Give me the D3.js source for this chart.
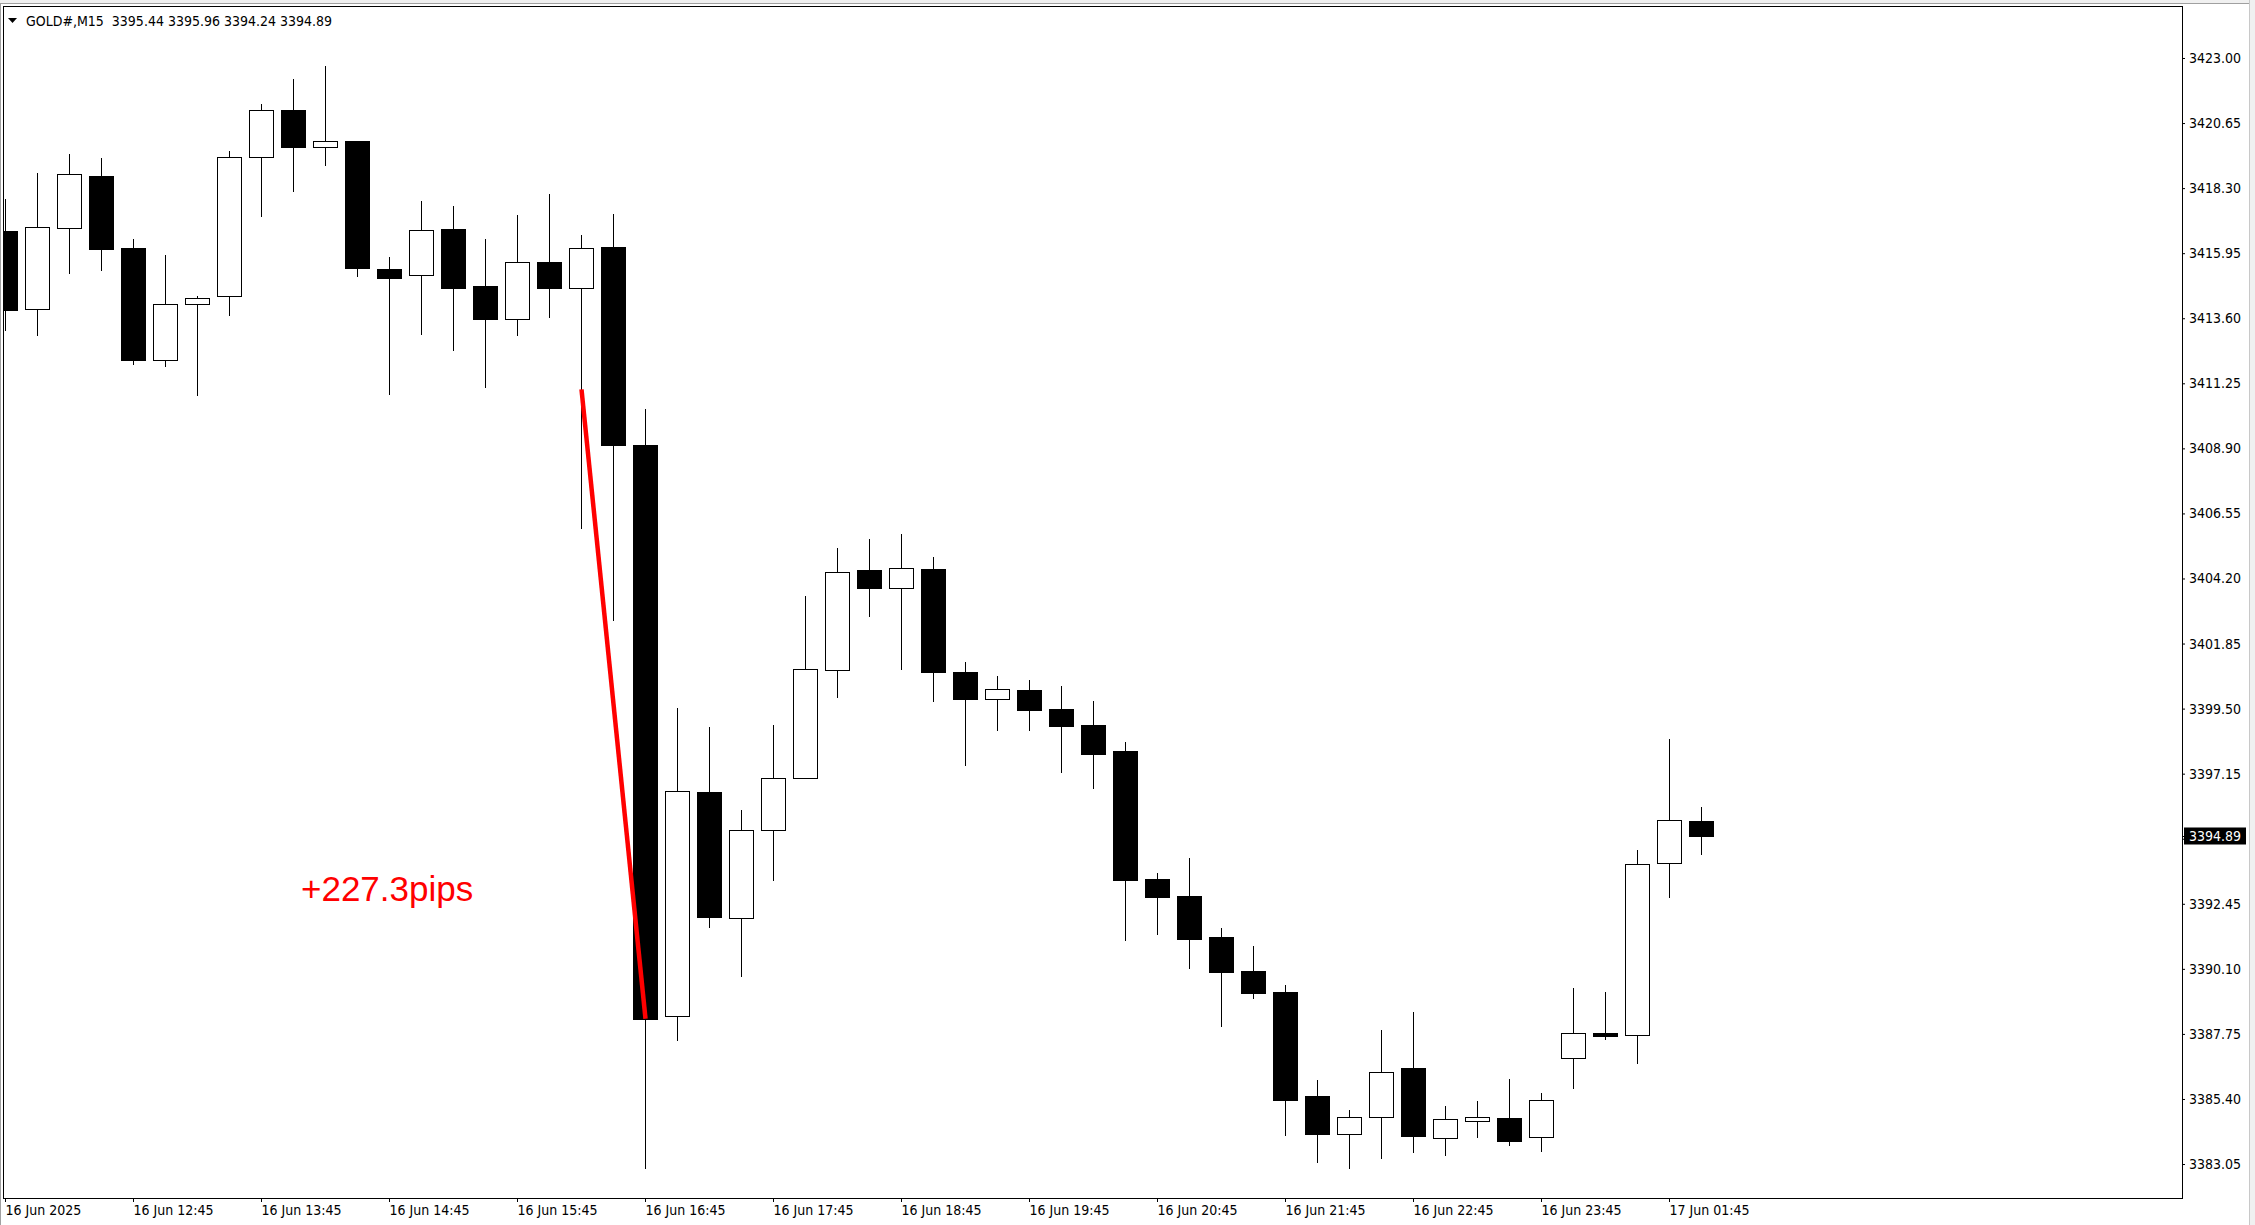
<!DOCTYPE html>
<html><head><meta charset="utf-8">
<script src="https://cdn.jsdelivr.net/npm/d3@7"></script>
<style>html,body{margin:0;padding:0;background:#fff;overflow:hidden}</style>
</head><body><svg id="c" width="2255" height="1225" xmlns="http://www.w3.org/2000/svg"></svg>
<script>
const symbol = "GOLD#,M15";
const opens  = [3416.76,3413.93,3416.85,3418.74,3416.14,3412.09,3414.11,3414.40,3419.42,3421.13,
                3419.78,3420.00,3415.39,3415.16,3416.83,3414.77,3413.57,3415.64,3414.69,3416.18,
                3409.02,3388.41,3396.49,3391.94,3395.11,3397.00,3400.89,3404.49,3403.86,3404.55,
                3400.84,3399.84,3400.18,3399.47,3398.89,3397.96,3393.33,3392.72,3391.24,3390.01,
                3389.25,3385.50,3384.15,3384.76,3386.51,3384.00,3384.62,3384.73,3384.04,3386.89,
                3387.79,3387.72,3393.93,3395.44];
const highs  = [3417.90,3418.85,3419.54,3419.39,3416.47,3415.89,3414.41,3419.65,3421.34,3422.25,
                3422.71,3420.00,3415.82,3417.84,3417.66,3416.47,3417.34,3418.09,3416.62,3417.38,
                3410.33,3399.53,3398.82,3395.85,3398.89,3403.58,3405.31,3405.61,3405.79,3404.98,
                3401.20,3400.68,3400.52,3400.33,3399.76,3398.31,3393.57,3394.12,3391.56,3390.91,
                3389.50,3386.07,3384.99,3387.88,3388.53,3385.13,3385.31,3386.11,3385.60,3389.40,
                3389.25,3394.41,3398.41,3395.96];
const lows   = [3413.18,3412.98,3415.22,3415.36,3411.93,3411.86,3410.81,3413.70,3417.28,3418.18,
                3419.12,3415.11,3410.86,3413.02,3412.47,3411.10,3412.98,3413.64,3406.03,3402.71,
                3382.91,3387.54,3391.61,3389.84,3393.32,3397.00,3399.93,3402.85,3400.92,3399.79,
                3397.46,3398.71,3398.71,3397.20,3396.62,3391.14,3391.37,3390.13,3388.03,3389.05,
                3384.10,3383.12,3382.91,3383.27,3383.49,3383.38,3384.03,3383.74,3383.52,3385.80,
                3387.57,3386.70,3392.69,3394.24];
const closes = [3413.88,3416.89,3418.80,3416.11,3412.08,3414.11,3414.33,3419.42,3421.11,3419.77,
                3419.99,3415.40,3415.04,3416.78,3414.71,3413.56,3415.63,3414.68,3416.14,3409.02,
                3388.30,3396.54,3391.98,3395.11,3397.00,3400.94,3404.44,3403.86,3404.58,3400.81,
                3399.84,3400.21,3399.44,3398.88,3397.86,3393.32,3392.69,3391.17,3389.98,3389.22,
                3385.37,3384.14,3384.76,3386.39,3384.06,3384.69,3384.76,3383.88,3385.38,3387.79,
                3387.67,3393.90,3395.48,3394.89];
const timeLabels = ["16 Jun 2025","16 Jun 12:45","16 Jun 13:45","16 Jun 14:45","16 Jun 15:45",
                    "16 Jun 16:45","16 Jun 17:45","16 Jun 18:45","16 Jun 19:45","16 Jun 20:45",
                    "16 Jun 21:45","16 Jun 22:45","16 Jun 23:45","17 Jun 01:45"];
const timeLabelIndex = [0,4,8,12,16,20,24,28,32,36,40,44,48,52];
const yTicks = [3423.00,3420.65,3418.30,3415.95,3413.60,3411.25,3408.90,3406.55,3404.20,
                3401.85,3399.50,3397.15,3394.80,3392.45,3390.10,3387.75,3385.40,3383.05];
const lastPrice = 3394.89;
const moveIndex = [18, 20];
const movePrice = [3411.03, 3388.30];
const moveLabel = "+227.3pips";
const moveLabelIndex = [9.25];
const moveLabelPrice = [3392.56];

const W = 2255, H = 1225;
const L = 4, R = 2182, T = 7, B = 1198;
const FONT = "Tahoma, 'DejaVu Sans Condensed', 'DejaVu Sans', sans-serif";
const n = opens.length;

const svg = d3.select("#c");
const x = d3.scaleLinear().domain([0, n - 1]).range([5, 5 + 32 * (n - 1)]);
const y = d3.scaleLinear().domain([3381.823, 3424.842]).range([B, T]);

// window chrome
svg.append("rect").attr("x",0).attr("y",0).attr("width",W).attr("height",H).attr("fill","#fff");
svg.append("rect").attr("x",0).attr("y",0).attr("width",W).attr("height",3).attr("fill","#f0f0f0");
svg.append("line").attr("x1",0).attr("x2",W).attr("y1",3.5).attr("y2",3.5).attr("stroke","#a0a0a0");
svg.append("rect").attr("x",2250).attr("y",0).attr("width",5).attr("height",H).attr("fill","#f0f0f0");
svg.append("line").attr("x1",2249.5).attr("x2",2249.5).attr("y1",0).attr("y2",H).attr("stroke","#c8c8c8");
svg.append("line").attr("x1",0.5).attr("x2",0.5).attr("y1",3).attr("y2",H).attr("stroke","#a0a0a0");

svg.append("defs").append("clipPath").attr("id","plot")
  .append("rect").attr("x",L).attr("y",T).attr("width",R-L).attr("height",B-T);

const g = svg.append("g").attr("clip-path","url(#plot)").attr("shape-rendering","crispEdges");
const idx = d3.range(n);

g.selectAll("line.wick").data(idx).join("line").attr("class","wick")
  .attr("x1", i => x(i) + 0.5).attr("x2", i => x(i) + 0.5)
  .attr("y1", i => Math.round(y(highs[i]))).attr("y2", i => Math.round(y(lows[i])) + 1)
  .attr("stroke","#000").attr("stroke-width",1);

g.selectAll("rect.body").data(idx).join("rect").attr("class","body")
  .each(function(i){
    const up = closes[i] >= opens[i];
    const top = Math.round(y(Math.max(opens[i], closes[i])));
    const bot = Math.round(y(Math.min(opens[i], closes[i])));
    const s = d3.select(this);
    if (up) {
      s.attr("x", x(i) - 11.5).attr("y", top + 0.5).attr("width", 24)
       .attr("height", Math.max(1, bot - top)).attr("fill","#fff").attr("stroke","#000").attr("stroke-width",1);
    } else {
      s.attr("x", x(i) - 12).attr("y", top).attr("width", 25)
       .attr("height", Math.max(2, bot - top + 1)).attr("fill","#000");
    }
  });

// red move line and label
svg.append("g").attr("clip-path","url(#plot)").append("line")
  .attr("x1", x(moveIndex[0]) + 0.5).attr("y1", y(movePrice[0]))
  .attr("x2", x(moveIndex[1]) + 0.5).attr("y2", y(movePrice[1]))
  .attr("stroke","#ff0000").attr("stroke-width",4.5).attr("stroke-linecap","butt");
svg.append("text").attr("x", x(moveLabelIndex[0])).attr("y", y(moveLabelPrice[0]))
  .attr("font-family","'Liberation Sans', Arial, sans-serif").attr("font-size",35)
  .attr("fill","#ff0000").text(moveLabel);

// frame
svg.append("rect").attr("x",L-0.5).attr("y",T-0.5).attr("width",R-L+1).attr("height",B-T+1)
  .attr("fill","none").attr("stroke","#000").attr("stroke-width",1).attr("shape-rendering","crispEdges");

// y axis
const ya = svg.append("g").attr("transform",`translate(${R},0)`)
  .call(d3.axisRight(y).tickValues(yTicks).tickSize(3).tickPadding(4).tickFormat(d3.format(".2f")));
ya.select(".domain").remove();
ya.selectAll("text").attr("font-family",FONT).attr("font-size",14).attr("fill","#000");
ya.selectAll("line").attr("stroke","#000");

// x axis
const xa = svg.append("g").attr("transform",`translate(0,${B})`)
  .call(d3.axisBottom(x).tickValues(timeLabelIndex).tickSize(4).tickPadding(3)
        .tickFormat((d,i) => timeLabels[i]));
xa.select(".domain").remove();
xa.selectAll("text").attr("font-family",FONT).attr("font-size",14).attr("fill","#000")
  .attr("text-anchor","start").attr("dx", 0);
xa.selectAll("line").attr("stroke","#000");

// current price label
const ly = y(lastPrice);
svg.append("rect").attr("x",2184).attr("y",Math.round(ly) - 8.5).attr("width",62).attr("height",17).attr("fill","#000");
svg.append("line").attr("x1",R).attr("x2",R+3).attr("y1",Math.round(ly)+0.5).attr("y2",Math.round(ly)+0.5).attr("stroke","#000");
svg.append("text").attr("x",2189).attr("y",ly).attr("dy","0.35em")
  .attr("font-family",FONT).attr("font-size",14).attr("fill","#fff").text(d3.format(".2f")(lastPrice));

// header
svg.append("path").attr("d","M8,18 L17,18 L12.5,23 Z").attr("fill","#000");
svg.append("text").attr("x",26).attr("y",26).attr("font-family",FONT).attr("font-size",14)
  .attr("fill","#000").style("white-space","pre")
  .text(`${symbol}  ${opens[n-1].toFixed(2)} ${highs[n-1].toFixed(2)} ${lows[n-1].toFixed(2)} ${closes[n-1].toFixed(2)}`);
</script>
</body></html>
